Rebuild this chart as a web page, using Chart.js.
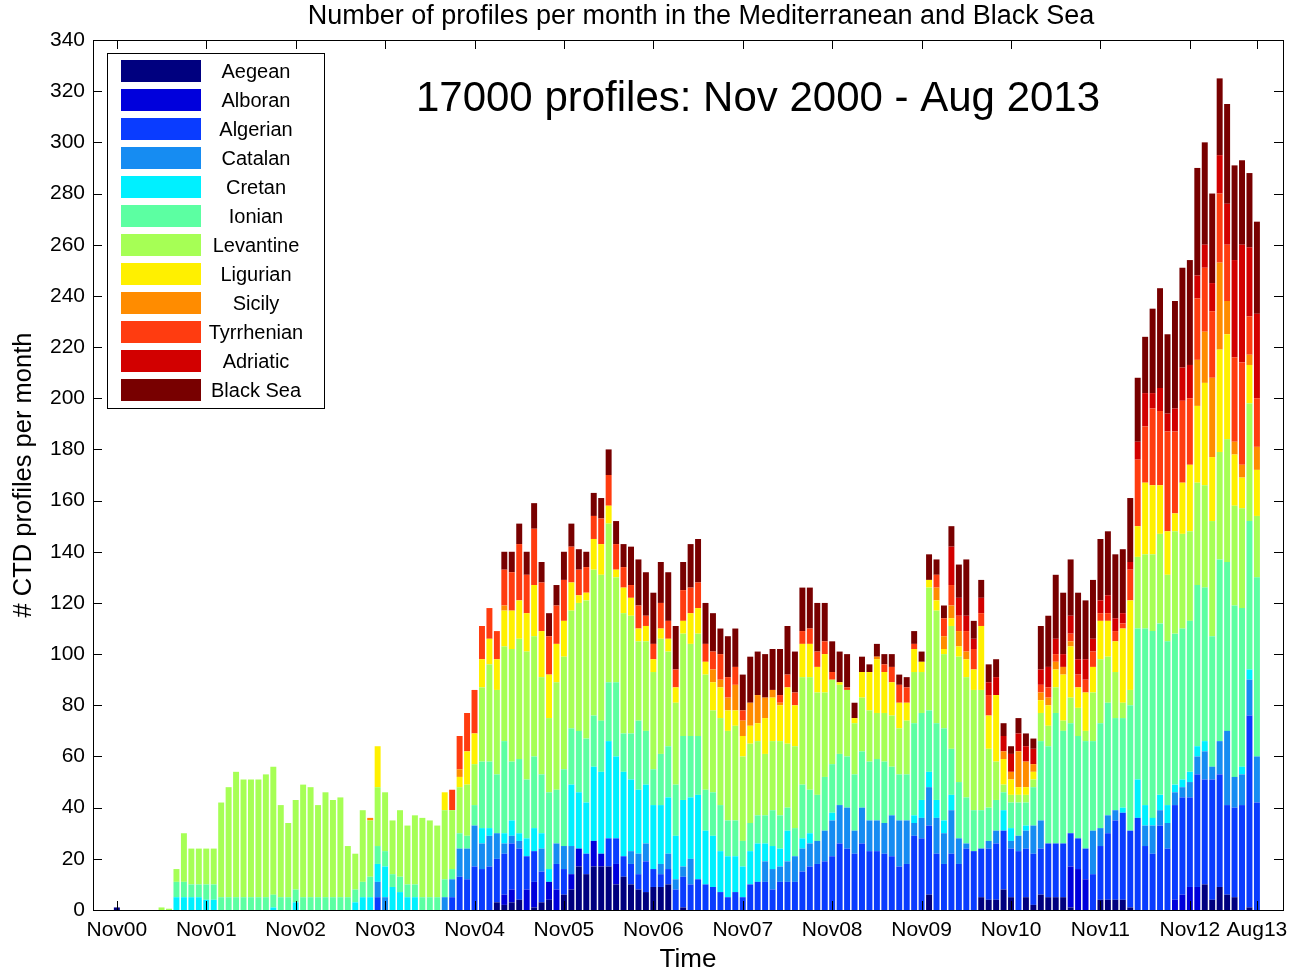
<!DOCTYPE html>
<html>
<head>
<meta charset="utf-8">
<script src="https://cdn.jsdelivr.net/npm/chart.js@4.4.1/dist/chart.umd.min.js"></script>
<style>
  html, body { margin: 0; padding: 0; background: #fff; }
  #wrap { width: 1296px; height: 973px; }
</style>
</head>
<body>
<div id="wrap"><canvas id="bars" width="1296" height="973"></canvas></div>
<script>
// months run Nov 2000 (index 0) .. Aug 2013 (index 153)
const monthNames = ['Nov','Dec','Jan','Feb','Mar','Apr','May','Jun','Jul','Aug','Sep','Oct'];
const months = [];
for (let i = 0; i < 154; i++) {
  const yr = 2000 + Math.floor((i + 10) / 12);
  months.push(monthNames[i % 12] + String(yr).slice(2));
}

const tickMonths = [0, 12, 24, 36, 48, 60, 72, 84, 96, 108, 120, 132, 144, 153];
const tickLabels = ['Nov00','Nov01','Nov02','Nov03','Nov04','Nov05','Nov06','Nov07','Nov08','Nov09','Nov10','Nov11','Nov12','Aug13'];

const regions = ['Aegean','Alboran','Algerian','Catalan','Cretan','Ionian','Levantine','Ligurian','Sicily','Tyrrhenian','Adriatic','Black Sea'];
const colors = ['#00007f','#0000dc','#0a3cff','#168cf2','#00f0ff','#5cffa2','#a6ff55','#fff000','#ff8c00','#ff3c10','#d20000','#780000'];

// one row per year, Nov..Oct
const aegean = [
  1,0,0,0,0,0,0,0,0,0,0,0,
  0,0,0,0,0,0,0,0,0,0,0,0,
  0,0,0,0,0,0,0,0,0,0,0,0,
  0,0,0,0,0,0,0,0,0,0,0,0,
  0,0,0,3,2,3,4,0,1,3,4,0,
  6,8,17,14,17,17,17,10,13,10,8,7,
  9,9,10,0,1,0,0,0,0,0,0,0,
  0,0,0,0,0,0,0,0,0,0,0,0,
  0,0,0,0,0,0,0,0,0,0,0,0,
  0,6,0,0,0,0,0,0,5,4,4,8,
  5,0,5,2,6,5,5,5,1,0,0,0,
  4,4,4,4,1,0,0,0,0,0,0,0,
  0,0,10,4,9,6,5,0,1,0
];
const alboran = [
  0,0,0,0,0,0,0,0,0,0,0,0,
  0,0,0,0,0,0,0,0,0,0,0,0,
  0,0,0,0,0,0,0,0,0,0,0,0,
  0,0,0,0,0,0,0,0,0,0,0,0,
  0,0,0,0,4,5,0,8,10,0,7,8,
  0,6,7,0,10,5,0,8,0,0,0,0,
  0,0,0,0,0,0,0,0,0,0,0,0,
  0,0,0,0,0,0,0,0,0,0,0,0,
  0,0,0,0,0,0,0,0,0,0,0,0,
  0,0,0,0,0,0,0,0,0,0,0,0,
  0,0,0,0,0,0,0,0,16,16,12,0,
  0,0,0,0,0,0,0,0,0,0,4,6,
  9,9,0,0,0,0,0,0,0,0
];
const algerian = [
  0,0,0,0,0,0,0,0,0,0,0,0,
  0,0,0,0,0,0,0,0,0,0,0,0,
  0,0,0,0,0,0,0,0,0,0,0,5,
  0,0,0,0,0,0,0,0,0,5,13,12,
  17,16,17,17,16,18,20,13,12,12,0,10,
  10,0,0,8,0,0,11,10,8,8,6,12,
  7,5,6,8,12,10,12,10,9,7,5,7,
  5,10,11,11,8,11,11,11,15,17,18,19,
  21,26,24,22,26,23,23,22,21,17,18,29,
  28,27,22,18,22,18,24,23,19,20,22,23,
  19,23,19,20,18,21,21,21,13,12,12,14,
  21,26,31,34,30,36,25,22,33,24,37,38,
  35,44,41,47,44,35,35,41,75,42
];
const catalan = [
  0,0,0,0,0,0,0,0,0,0,0,0,
  0,0,0,0,0,0,0,0,0,0,0,0,
  0,0,0,0,0,0,0,0,0,0,0,6,
  5,0,0,0,0,0,0,0,5,7,11,12,
  16,10,12,10,4,3,3,0,0,9,0,8,
  9,11,0,0,0,0,0,0,0,5,8,7,
  0,4,6,4,4,10,0,0,0,0,0,0,
  0,0,0,8,8,6,8,10,9,9,9,12,
  14,15,16,9,14,12,12,12,16,18,17,5,
  8,15,14,12,17,10,2,0,0,3,5,0,
  3,6,7,11,11,0,0,0,0,0,0,17,
  7,7,4,0,0,0,8,11,6,10,5,4,
  6,7,11,5,13,29,12,12,14,18
];
const cretan = [
  0,0,0,0,0,0,0,0,5,5,5,5,
  4,4,0,0,0,0,0,0,0,1,0,0,
  3,0,0,0,0,0,0,0,3,5,5,7,
  12,9,7,5,5,0,0,0,0,0,0,0,
  0,6,3,0,4,6,3,7,9,6,5,0,
  0,24,22,20,29,32,38,32,33,28,25,23,
  25,23,22,17,26,24,33,21,20,16,16,14,
  12,13,15,7,9,7,12,0,4,4,0,0,
  3,0,0,0,0,0,0,0,0,0,0,3,
  7,6,7,5,6,0,0,0,0,0,0,8,
  5,0,2,0,0,0,0,0,0,0,0,0,
  0,0,0,2,0,15,8,3,6,7,3,3,
  4,4,4,0,0,0,0,3,4,0
];
const ionian = [
  0,0,0,0,0,0,0,0,6,6,5,5,
  6,6,5,5,5,5,5,5,5,5,5,5,
  5,5,5,5,5,5,5,5,5,6,8,7,
  6,5,6,5,5,5,5,5,7,4,6,5,
  8,26,26,23,36,23,29,23,28,23,30,21,
  30,22,24,25,20,20,23,29,15,18,27,21,
  14,20,20,20,25,24,23,16,17,18,14,14,
  10,11,11,11,14,13,9,11,21,17,18,21,
  19,20,20,22,22,23,24,24,19,18,18,36,
  34,24,30,36,18,22,18,16,15,13,12,7,
  10,13,9,15,31,38,51,44,43,40,42,35,
  41,44,36,35,49,59,69,73,67,64,59,59,
  59,63,60,51,71,66,67,62,58,70
];
const levantine = [
  0,0,0,0,0,0,1,0.5,5,19,14,14,
  14,14,37,43,49,46,46,46,48,50,36,29,
  35,44,43,36,41,38,39,20,14,28,22,23,
  23,21,26,23,27,31,30,28,27,23,18,20,
  16,29,38,33,37,44,47,50,47,38,29,42,
  44,46,50,54,57,57,62,41,47,46,31,35,
  38,45,37,32,40,36,40,45,32,34,35,37,
  33,31,29,24,27,29,25,32,42,44,40,33,
  33,27,26,20,21,20,18,19,20,18,21,20,
  16,48,44,29,48,49,47,47,47,23,15,3,
  3,3,3,3,11,8,10,4,10,11,4,19,
  25,18,18,6,6,28,29,30,35,26,40,37,
  35,40,40,45,42,48,39,39,46,24
];
const ligurian = [
  0,0,0,0,0,0,0,0,0,0,0,0,
  0,0,0,0,0,0,0,0,0,0,0,0,
  0,0,0,0,0,0,0,0,0,0,0,16,
  0,0,0,0,0,0,0,0,7,0,4,13,
  12,11,10,12,14,15,15,15,20,18,17,15,
  14,11,3,3,12,12,7,3,10,7,5,6,
  5,4,5,6,5,12,10,5,11,12,8,6,
  8,7,7,14,17,14,22,16,13,13,10,15,
  0,1,0,2,10,15,21,16,13,10,7,9,
  4,3,4,2,3,4,7,8,25,13,26,10,
  6,3,3,3,5,8,7,18,20,8,15,10,
  15,14,12,29,35,12,28,27,19,17,7,20,
  26,30,40,25,40,41,20,12,15,18
];
const sicily = [
  0,0,0,0,0,0,0,0,0,0,0,0,
  0,0,0,0,0,0,0,0,0,0,0,0,
  0,0,0,0,0,0,0,0,0,0,1,0,
  0,0,0,0,0,0,0,0,0,0,3,0,
  0,0,0,0,2,0,0,0,0,0,0,0,
  0,0,0,0,0,0,0,0,0,0,0,0,
  0,0,0,0,0,0,0,0,5,3,5,10,
  6,9,11,8,3,1,0,0,0,0,0,0,
  0,0,0,0,0,0,1,0,0,0,0,0,
  0,0,5,5,5,6,3,0,0,0,0,3,
  3,14,10,3,3,3,3,3,2,0,0,0,
  0,0,0,0,0,0,0,0,0,0,0,0,
  0,18,20,31,34,13,5,5,4,9
];
const tyrrhenian = [
  0,0,0,0,0,0,0,0,0,0,0,0,
  0,0,0,0,0,0,0,0,0,0,0,0,
  0,0,0,0,0,0,0,0,0,0,0,0,
  0,0,0,0,0,0,0,0,0,8,13,15,
  17,13,12,11,14,15,22,15,22,19,15,15,
  16,14,10,10,9,10,12,10,8,5,9,4,
  6,10,7,7,12,10,10,7,7,10,8,7,
  4,0,0,0,0,3,5,5,5,6,6,5,
  3,0,1,0,0,0,0,3,6,7,6,2,
  0,0,5,7,8,6,8,8,5,8,0,0,
  0,0,0,0,3,4,3,0,3,5,5,6,
  3,3,4,2,12,26,22,30,29,39,32,32,
  26,24,25,26,27,22,33,40,15,19
];
const adriatic = [
  0,0,0,0,0,0,0,0,0,0,0,0,
  0,0,0,0,0,0,0,0,0,0,0,0,
  0,0,0,0,0,0,0,0,0,0,0,0,
  0,0,0,0,0,0,0,0,0,0,0,0,
  0,0,0,0,0,0,0,0,0,0,0,0,
  0,0,0,0,0,0,0,0,0,0,0,0,
  0,0,0,0,0,0,0,0,0,0,0,0,
  0,0,0,0,0,0,0,0,0,0,0,0,
  0,0,0,0,0,0,0,0,0,0,0,0,
  0,0,0,0,15,7,6,4,6,5,7,6,
  7,7,6,6,6,8,6,5,7,6,8,5,
  5,7,5,4,3,7,13,6,9,7,9,13,
  13,9,9,11,15,16,38,46,27,33
];
const blackSea = [
  0,0,0,0,0,0,0,0,0,0,0,0,
  0,0,0,0,0,0,0,0,0,0,0,0,
  0,0,0,0,0,0,0,0,0,0,0,0,
  0,0,0,0,0,0,0,0,0,0,0,0,
  0,0,0,0,7,8,8,9,10,8,9,8,
  11,9,8,6,9,8,10,9,9,15,18,17,
  20,16,19,17,11,17,17,16,15,10,16,15,
  14,18,17,17,16,18,19,16,17,16,19,15,
  12,12,13,6,6,3,5,4,5,4,4,5,
  4,10,6,5,8,13,22,7,7,7,7,5,
  3,6,5,4,17,20,25,24,22,26,23,23,
  24,25,25,25,25,25,22,33,39,31,42,39,
  41,42,40,35,30,39,37,33,29,36
];

const series = [aegean, alboran, algerian, catalan, cretan, ionian, levantine, ligurian, sicily, tyrrhenian, adriatic, blackSea];
const FONT = '"Liberation Sans", Arial, sans-serif';

// title, box, inward ticks, legend and the note
const decor = {
  id: 'decor',
  afterDatasetsDraw(chart) {
    const ctx = chart.ctx;
    const a = chart.chartArea;
    const xs = chart.scales.x, ys = chart.scales.y;
    ctx.save();
    ctx.fillStyle = '#000';
    ctx.font = '27px ' + FONT;
    ctx.textAlign = 'center';
    ctx.textBaseline = 'middle';
    ctx.fillText('Number of profiles per month in the Mediterranean and Black Sea', 701, 17);

    ctx.strokeStyle = '#000';
    ctx.lineWidth = 1;
    ctx.strokeRect(Math.round(a.left) + 0.5, Math.round(a.top) + 0.5, Math.round(a.right - a.left), Math.round(a.bottom - a.top));
    ctx.beginPath();
    ys.ticks.forEach(t => {
      const y = Math.round(ys.getPixelForValue(t.value)) + 0.5;
      ctx.moveTo(a.left, y); ctx.lineTo(a.left + 9, y);
      ctx.moveTo(a.right, y); ctx.lineTo(a.right - 9, y);
    });
    tickMonths.forEach(m => {
      const x = Math.round(xs.getPixelForValue(m)) + 0.5;
      ctx.moveTo(x, a.bottom); ctx.lineTo(x, a.bottom - 9);
      ctx.moveTo(x, a.top); ctx.lineTo(x, a.top + 9);
    });
    ctx.stroke();

    // legend
    const lx = 107, ly = 53, lw = 217, lh = 355;
    ctx.fillStyle = '#fff';
    ctx.fillRect(lx, ly, lw, lh);
    ctx.strokeRect(lx + 0.5, ly + 0.5, lw, lh);
    ctx.font = '20px ' + FONT;
    chart.data.datasets.forEach((ds, i) => {
      const cy = 71 + i * 29;
      ctx.fillStyle = ds.backgroundColor;
      ctx.fillRect(121, cy - 11, 80, 22);
      ctx.fillStyle = '#000';
      ctx.fillText(ds.label, 256, cy + 1);
    });

    ctx.font = '42px ' + FONT;
    ctx.fillText('17000 profiles: Nov 2000 - Aug 2013', 758, 99);
    ctx.restore();
  }
};

new Chart(document.getElementById('bars').getContext('2d'), {
  type: 'bar',
  data: {
    labels: months.map((m, i) => i),
    datasets: regions.map((r, i) => ({
      label: r,
      data: series[i],
      backgroundColor: colors[i],
      borderWidth: 0,
      barPercentage: 0.8,
      categoryPercentage: 1
    }))
  },
  options: {
    responsive: false,
    animation: false,
    layout: { padding: { left: 0, right: 13, top: 40, bottom: 0 } },
    plugins: {
      legend: { display: false },
      tooltip: { enabled: false },
      title: { display: false }
    },
    scales: {
      x: {
        type: 'linear',
        stacked: true,
        offset: false,
        min: -3.2,
        max: 156.5,
        grid: { display: false, drawTicks: false },
        border: { display: false },
        afterBuildTicks: s => { s.ticks = tickMonths.map(v => ({ value: v })); },
        afterFit: s => { s.height = 63; },
        ticks: {
          autoSkip: false,
          maxRotation: 0,
          padding: 8,
          color: '#000',
          font: { family: FONT, size: 21 },
          callback: v => tickLabels[tickMonths.indexOf(v)]
        },
        title: {
          display: true,
          text: 'Time',
          color: '#000',
          font: { family: FONT, size: 26 },
          padding: { top: 0, bottom: -2 }
        }
      },
      y: {
        stacked: true,
        min: 0,
        max: 340,
        grid: { display: false, drawTicks: false },
        border: { display: false },
        afterFit: s => { s.width = 93; },
        ticks: {
          stepSize: 20,
          padding: 8,
          color: '#000',
          font: { family: FONT, size: 21 }
        },
        title: {
          display: true,
          text: '# CTD profiles per month',
          color: '#000',
          font: { family: FONT, size: 25.5 },
          padding: { top: 9, bottom: 0 }
        }
      }
    }
  },
  plugins: [decor]
});
</script>
</body>
</html>
